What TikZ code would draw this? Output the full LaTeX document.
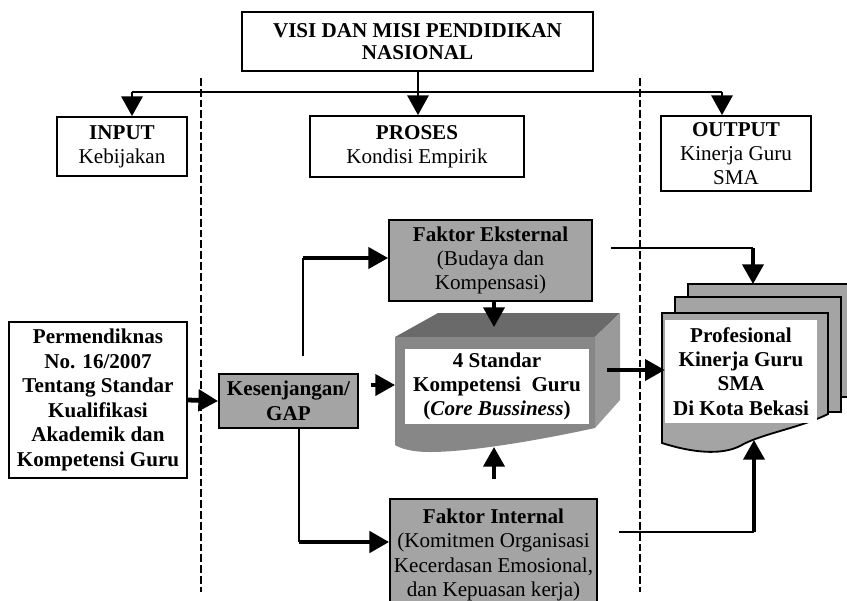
\documentclass[tikz,border=0pt]{standalone}
\usepackage{fontspec}
\setmainfont{Liberation Serif}
\usetikzlibrary{positioning,arrows.meta}
\definecolor{boxgray}{HTML}{A4A4A4}
\definecolor{cubetop}{HTML}{6A6A6A}
\definecolor{cubefront}{HTML}{878787}
\definecolor{cubeside}{HTML}{9A9A9A}
\tikzset{
box/.style={draw, line width=1.3pt, fill=white, align=center, inner sep=0pt, font=\fontsize{15}{17.2}\selectfont},
greybox/.style={box, fill=boxgray},
inner/.style={fill=white, align=center, inner sep=0pt, font=\fontsize{15}{17.2}\selectfont},
tip/.style={-{Triangle[length=14pt,width=15pt]}},
sep line/.style={dash pattern=on 5.5pt off 2.2pt, line width=2.1pt}
}
\newcommand{\pxu}{0.025cm}

\begin{document}
\begin{tikzpicture}[x=0.025cm, y=-0.025cm]
\useasboundingbox (0,0) rectangle (847,600);

% dashed separators
\draw[sep line] (201,78) -- (201,592);
\draw[sep line] (640,78) -- (640,592);

% top row
\node[box, minimum width=351*\pxu, minimum height=59*\pxu, font=\fontsize{15}{15.6}\selectfont\bfseries] (visi) at (417.5,41.5) {VISI DAN MISI PENDIDIKAN\\NASIONAL};
\node[box, minimum width=130*\pxu, minimum height=59*\pxu] (input) at (122,146.5) {\textbf{INPUT}\\Kebijakan};
\node[box, minimum width=214*\pxu, minimum height=61*\pxu] (proses) at (417,146.5) {\textbf{PROSES}\\Kondisi Empirik};
\node[box, minimum width=150*\pxu, minimum height=75*\pxu] (output) at (736,153.5) {\textbf{OUTPUT}\\Kinerja Guru\\SMA};

\coordinate (bar) at (418,92);
\coordinate (barL) at (132,92);
\coordinate (barR) at (722,92);
\draw[line width=1.3pt] (visi.south -| bar) -- (bar);
\draw[line width=1.3pt] (barL) -- (barR);
\draw[tip, line width=2pt] (barL) -- (barL |- input.north);
\draw[tip, line width=2pt] (bar) -- (bar |- proses.north);
\draw[tip, line width=2pt] (barR) -- (barR |- output.north);

% cube
\fill[cubetop] (395,337) -- (438,313) -- (620,313) -- (595,337) -- cycle;
\fill[cubeside] (595,337) -- (620,313) -- (620,400) -- (595,428) -- cycle;
\fill[cubefront] (395,337) -- (595,337) -- (595,428) .. controls (540,440) and (470,452) .. (430,452) .. controls (410,452) and (400,448) .. (395,445) -- cycle;
\node[inner, minimum width=184*\pxu, minimum height=75*\pxu] (core) at (497,386.5) {\textbf{4 Standar}\\\textbf{Kompetensi~ Guru}\\\textbf{(\textit{Core Bussiness})}};

% stacked documents
\filldraw[fill=boxgray, line width=1.3pt] (688,284) rectangle (854,397);
\filldraw[fill=boxgray, line width=1.3pt] (675,297) rectangle (841,412);
\filldraw[fill=boxgray, line width=1.3pt] (662,313) -- (828,313) -- (828,414) .. controls (800,428) and (760,434) .. (740,446) .. controls (720,456) and (690,452) .. (662,443) -- cycle;
\node[inner, minimum width=152*\pxu, minimum height=103*\pxu] (kinerja) at (741,371.5) {\textbf{Profesional}\\\textbf{Kinerja Guru}\\\textbf{SMA}\\\textbf{Di Kota Bekasi}};

% left and middle boxes
\node[box, minimum width=178*\pxu, minimum height=156*\pxu, font=\fontsize{15}{17.4}\selectfont\bfseries] (perm) at (98,400) {Permendiknas\\No. 16/2007\\Tentang Standar\\Kualifikasi\\Akademik dan\\Kompetensi Guru};
\node[greybox, minimum width=139*\pxu, minimum height=54*\pxu, font=\fontsize{15}{17.6}\selectfont\bfseries] (gap) at (288.5,401) {Kesenjangan/\\GAP};
\node[greybox, minimum width=203*\pxu, minimum height=81*\pxu] (ekst) at (490.5,260.5) {\textbf{Faktor Eksternal}\\(Budaya dan\\Kompensasi)};
\node[greybox, minimum width=207*\pxu, minimum height=112*\pxu] (intern) at (493.5,555) {\textbf{Faktor Internal}\\(Komitmen Organisasi\\Kecerdasan Emosional,\\dan Kepuasan kerja)};

% connectors
\draw[tip, line width=3.4pt] (perm.east) -- (gap.west);

\coordinate (up) at (303,258);
\draw[line width=1.3pt] (gap.north -| up) ++(0,-17) -- (up);
\draw[tip, line width=2.6pt] (up) -- (ekst.west |- up);

\coordinate (down) at (299,542);
\draw[line width=1.6pt] (gap.south -| down) -- (down);
\draw[tip, line width=3.2pt] (down) -- (intern.west |- down);

\coordinate (cubeW) at (395,385);
\draw[tip, line width=2.6pt] (gap.east |- cubeW) ++(12,0) -- (cubeW);

\coordinate (cubeN) at (494,327);
\draw[tip, line width=2.6pt] (ekst.south -| cubeN) -- (cubeN);
\coordinate (cubeS) at (494,447);
\draw[tip, line width=2.6pt] (intern.north -| cubeS) ++(0,-19) -- (cubeS);

\coordinate (cubeE) at (607,370);
\draw[tip, line width=2.6pt] (cubeE) -- (kinerja.west |- cubeE);

\coordinate (ekstE) at ([xshift=13pt,yshift=9pt]ekst.east);
\coordinate (docN) at (753,284);
\draw[line width=1.2pt] (ekstE) -- (ekstE -| docN);
\draw[tip, line width=2.6pt] (ekstE -| docN) -- (docN);

\coordinate (internE) at ([xshift=15pt,yshift=16.4pt]intern.east);
\coordinate (docS) at (754,440);
\draw[line width=1.2pt] (internE) -- (internE -| docS);
\draw[tip, line width=2.6pt] (internE -| docS) -- (docS);
\end{tikzpicture}
\end{document}
